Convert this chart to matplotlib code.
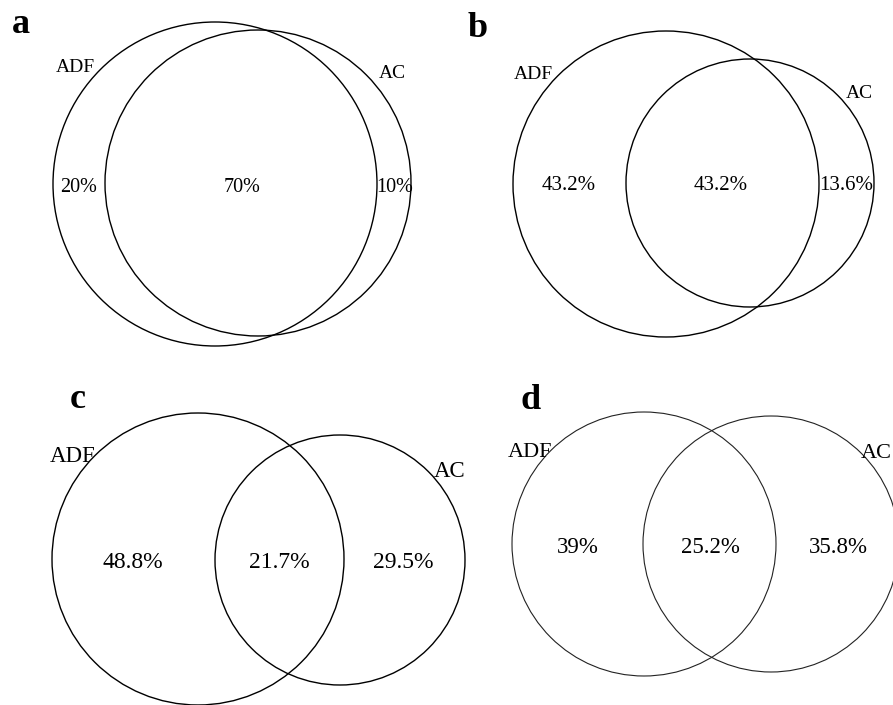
import matplotlib
matplotlib.use("Agg")
import matplotlib.pyplot as plt
from matplotlib.patches import Circle

# ---- data ----
panels = ["a", "b", "c", "d"]
set_names = ["ADF", "AC"]
only_adf = ["20%", "43.2%", "48.8%", "39%"]
both = ["70%", "43.2%", "21.7%", "25.2%"]
only_ac = ["10%", "13.6%", "29.5%", "35.8%"]

# ---- layout (pixel coordinates, y downward) ----
adf_circles = [(215, 184, 162), (666, 184, 153), (198, 559, 146), (644, 544, 132)]
ac_circles = [(258, 183, 153), (750, 183, 124), (340, 560, 125), (771, 544, 128)]
letter_pos = [(21, 33), (478, 37), (78, 408), (531, 409)]
adf_label_pos = [(75, 72), (533, 79), (73, 462), (530, 457)]
ac_label_pos = [(392, 78), (859, 98), (450, 477), (876, 458)]
pct_x = [(79, 242, 395), (569, 721, 846), (133, 279, 403), (578, 710, 838)]
pct_base = [192, 190, 568, 553]
txt_size = [14.5, 15, 17, 16.5]
lab_size = [14, 14, 16.5, 16]
line_w = [1.0, 1.0, 1.0, 0.8]
line_c = ["black", "black", "black", "#222222"]

W, H = 893, 705
fig = plt.figure(figsize=(W / 100, H / 100), dpi=100)
ax = fig.add_axes([0, 0, 1, 1])
ax.set_xlim(0, W)
ax.set_ylim(H, 0)
ax.set_aspect("equal")
ax.axis("off")

serif = ["Liberation Serif", "DejaVu Serif"]

for i, p in enumerate(panels):
    for (cx, cy, r) in (adf_circles[i], ac_circles[i]):
        ax.add_patch(Circle((cx, cy), r, fill=False, edgecolor=line_c[i], lw=line_w[i]))
    lx, ly = letter_pos[i]
    ax.text(lx, ly, p, family=serif, fontsize=26, fontweight="bold",
            ha="center", va="baseline")
    x, y = adf_label_pos[i]
    ax.text(x, y, set_names[0], family=serif, fontsize=lab_size[i],
            ha="center", va="baseline")
    x, y = ac_label_pos[i]
    ax.text(x, y, set_names[1], family=serif, fontsize=lab_size[i],
            ha="center", va="baseline")
    for xx, t in zip(pct_x[i], (only_adf[i], both[i], only_ac[i])):
        ax.text(xx, pct_base[i], t, family=serif, fontsize=txt_size[i],
                ha="center", va="baseline")

fig.savefig("out.png", dpi=100, facecolor="white")
